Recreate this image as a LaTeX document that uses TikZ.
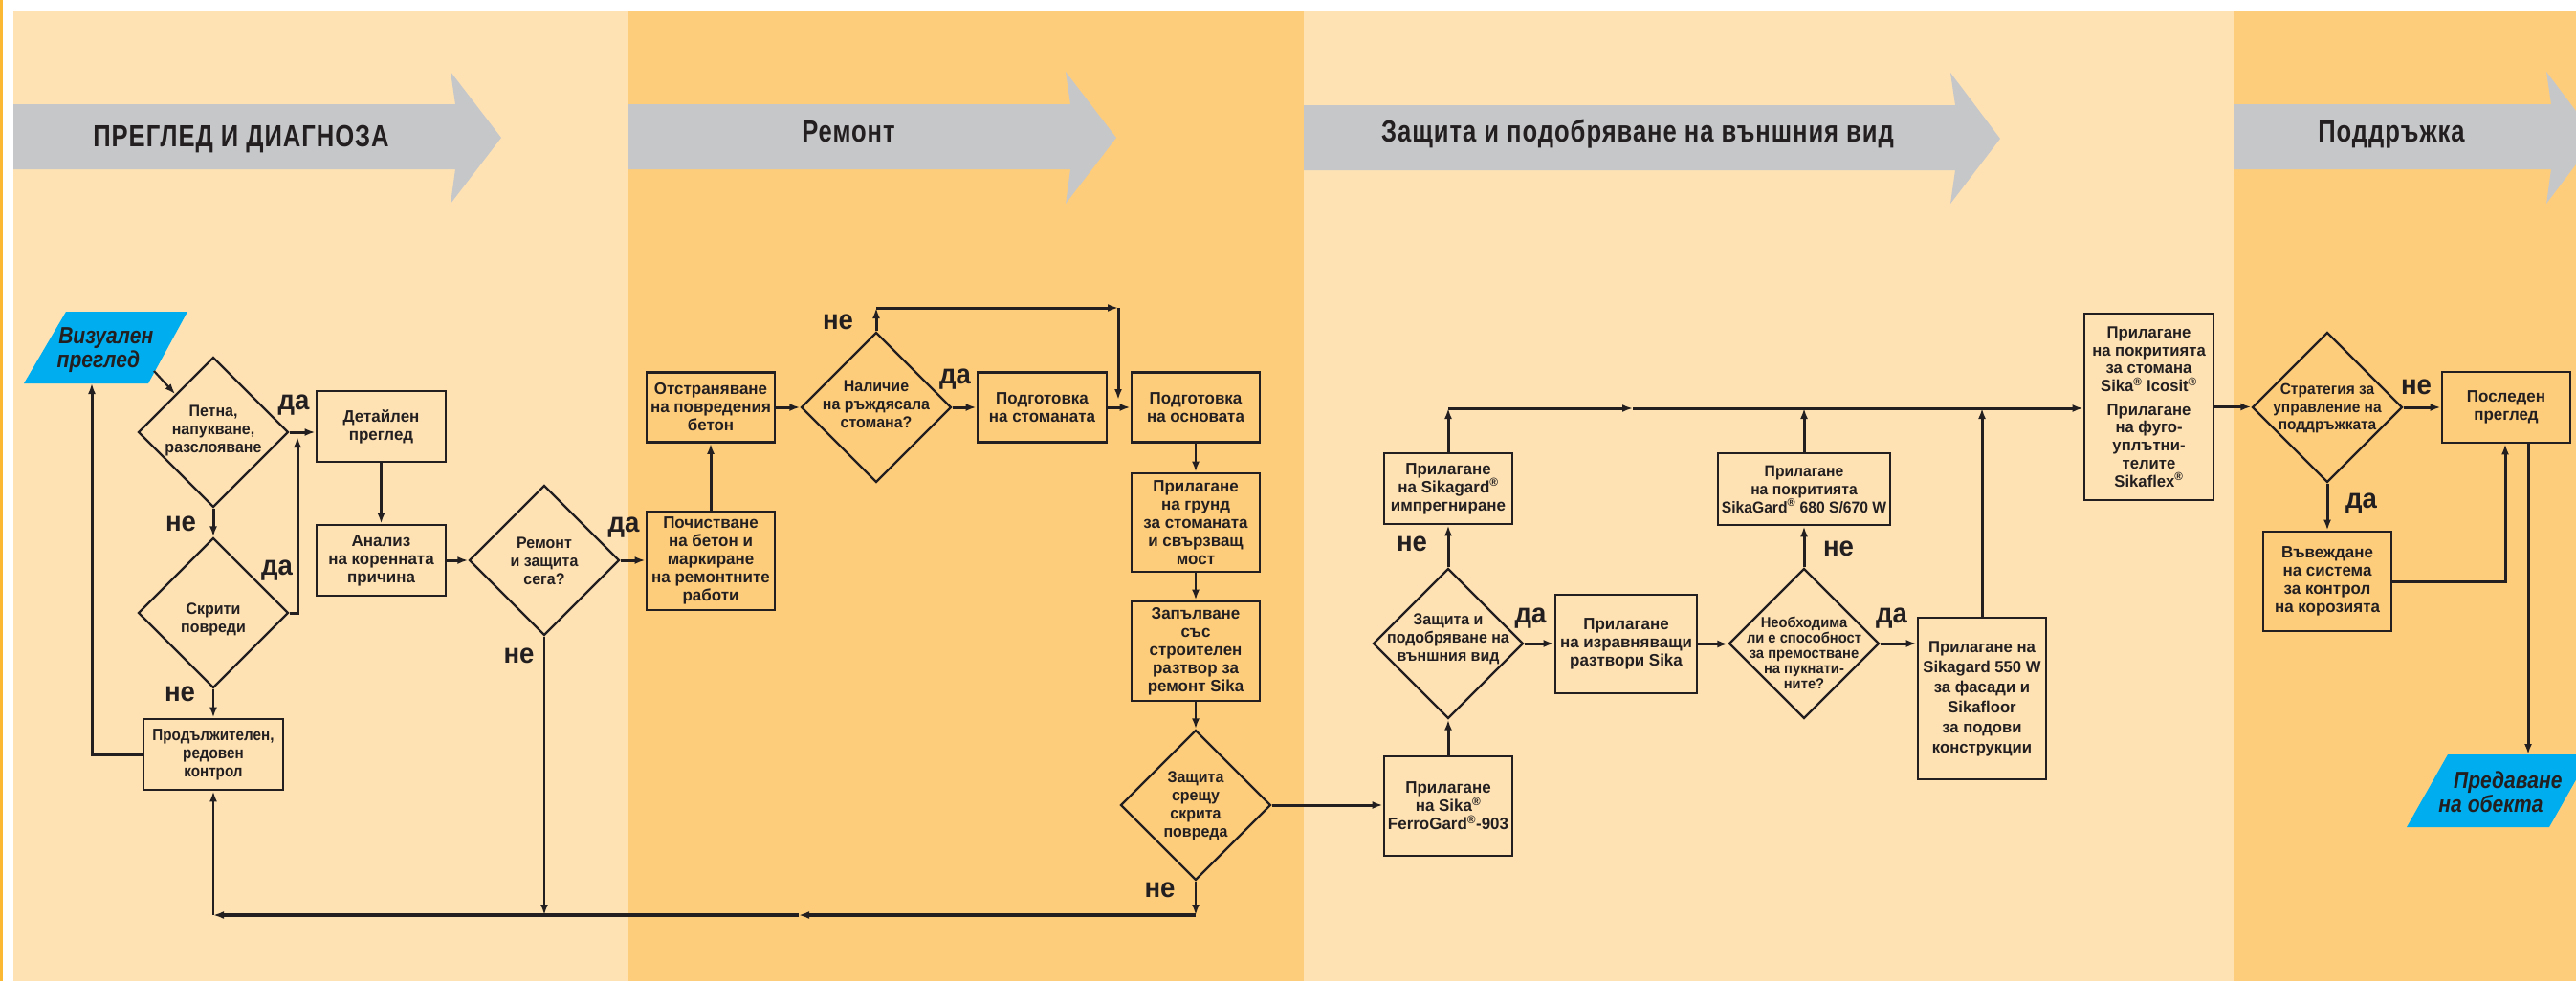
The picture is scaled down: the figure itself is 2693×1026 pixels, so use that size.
\documentclass[tikz,border=0pt]{standalone}
\usepackage{fontspec}
\setmainfont{Liberation Sans}
\newfontfamily\bgf{Liberation Sans}[FakeStretch=0.95]
\newfontfamily\bxf{Liberation Sans}[FakeStretch=0.98]
\newfontfamily\cnf{Liberation Sans}[FakeStretch=0.88]
\newfontfamily\itf{Liberation Sans}[FakeStretch=0.86]
\newfontfamily\hdf{Liberation Sans}[FakeStretch=0.8,LetterSpace=3]
\usetikzlibrary{arrows.meta,shapes.geometric}
\definecolor{lightb}{HTML}{FEE2B4}
\definecolor{orb}{HTML}{FECD7C}
\definecolor{edgeo}{HTML}{FBB833}
\definecolor{arrg}{HTML}{C6C7C9}
\definecolor{skyb}{HTML}{00AEEF}
\definecolor{ink}{HTML}{231F20}
\tikzset{
  box/.style={draw=ink, line width=2.8pt, rectangle, inner sep=0pt, align=center, text=ink,
    font=\bxf\bfseries\fontsize{17.3}{19}\selectfont},
  dia/.style={draw=ink, line width=2.3pt, diamond, inner sep=0pt, minimum width=157pt, minimum height=157pt},
  dtxt/.style={align=center, inner sep=0pt, text=ink, font=\bgf\bfseries\fontsize{16.8}{19}\selectfont},
  lbl/.style={anchor=base, inner sep=0pt, text=ink, font=\bgf\bfseries\fontsize{29}{30}\selectfont},
  hdr/.style={anchor=base, inner sep=0pt, text=ink, font=\hdf\bfseries\fontsize{32}{36}\selectfont},
  ptxt/.style={inner sep=0pt, text=ink, font=\itf\bfseries\itshape\fontsize{24.5}{25}\selectfont},
  con/.style={draw=ink, line width=3pt, -{Latex[length=11pt,width=8pt]}},
  conthin/.style={con, line width=2.2pt},
  conthick/.style={con, line width=3.6pt},
  band/.style={fill=arrg, draw=none}
}
\begin{document}
\begin{tikzpicture}[x=1pt,y=-1pt]
\useasboundingbox (0,0) rectangle (2693,1026);
\clip (0,0) rectangle (2693,1026);
% background
\fill[white] (0,0) rectangle (2693,1026);
\fill[edgeo] (0,0) rectangle (3,1026);
\fill[lightb] (14,11) rectangle (657,1026);
\fill[orb] (657,11) rectangle (1363,1026);
\fill[lightb] (1363,11) rectangle (2335,1026);
\fill[orb] (2335,11) rectangle (2693,1026);
% header arrows
\fill[band] (14,109) -- (476,109) -- (471,75) -- (524,144) -- (471,213) -- (476,177) -- (14,177) -- cycle;
\fill[band] (657,109) -- (1119,109) -- (1114,75) -- (1167,144) -- (1114,213) -- (1119,177) -- (657,177) -- cycle;
\fill[band] (1363,110) -- (2044,110) -- (2039,76) -- (2091,145) -- (2039,213) -- (2044,178) -- (1363,178) -- cycle;
\fill[band] (2335,109) -- (2667,109) -- (2662,75) -- (2714,144) -- (2662,213) -- (2667,177) -- (2335,177) -- cycle;
\node[hdr] (h1) at (252,153) {ПРЕГЛЕД И ДИАГНОЗА};
\node[hdr] (h2) at (887,148) {Ремонт};
\node[hdr] (h3) at (1712,148) {Защита и подобряване на външния вид};
\node[hdr] (h4) at (2500,148) {Поддръжка};
% terminal parallelograms
\fill[skyb] (69,326) -- (196,326) -- (155,401) -- (25,401) -- cycle;
\node[ptxt, align=right] (vist) at (110,366) {Визуален\\преглед\hspace*{14pt}};
\coordinate (visR) at (161,388);
\coordinate (visB) at (96,401);
\fill[skyb] (2559,789) -- (2708,789) -- (2665,865) -- (2516,865) -- cycle;
\node[ptxt, align=right] (predt) at (2614,828) {Предаване\\на обекта\hspace*{20pt}};
\coordinate (predT) at (2643,789);
% diamonds
\node[dia] (d1) at (223,452) {};
\node[dtxt] (d1t) at (223,450) {Петна,\\напукване,\\разслояване};
\node[dia] (d2) at (223,641) {};
\node[dtxt] (d2t) at (223,648) {Скрити\\повреди};
\node[dia] (d3) at (569,586) {};
\node[dtxt] (d3t) at (569,587) {Ремонт\\и защита\\сега?};
\node[dia] (d4) at (916,426) {};
\node[dtxt] (d4t) at (916,423) {Наличие\\на ръждясала\\стомана?};
\node[dia] (dz) at (1250,842) {};
\node[dtxt] (dzt) at (1250,843) {Защита\\срещу\\скрита\\повреда};
\node[dia] (d5) at (1514,673) {};
\node[dtxt] (d5t) at (1514,668) {Защита и\\подобряване на\\външния вид};
\node[dia] (d6) at (1886,673) {};
\node[dtxt, font=\bgf\bfseries\fontsize{15.5}{16}\selectfont] (d6t) at (1886,683) {Необходима\\ли е способност\\за премостване\\на пукнати-\\ните?};
\node[dia] (d7) at (2433,426) {};
\node[dtxt, font=\bgf\bfseries\fontsize{16.3}{18.5}\selectfont] (d7t) at (2433,427) {Стратегия за\\управление на\\поддръжката};
% boxes
\node[box, minimum width=135pt, minimum height=74pt] (det) at (398.5,446) {Детайлен\\преглед};
\node[box, minimum width=135pt, minimum height=74pt] (an) at (398.5,586) {Анализ\\на коренната\\причина};
\node[box, minimum width=146pt, minimum height=74pt, font=\cnf\bfseries\fontsize{17.3}{19}\selectfont] (prod) at (223,789) {Продължителен,\\редовен\\контрол};
\node[box, minimum width=134pt, minimum height=73pt] (otst) at (743,426) {Отстраняване\\на повредения\\бетон};
\node[box, minimum width=134pt, minimum height=103pt] (poch) at (743,586.5) {Почистване\\на бетон и\\маркиране\\на ремонтните\\работи};
\node[box, minimum width=135pt, minimum height=73pt] (pst) at (1089.5,426) {Подготовка\\на стоманата};
\node[box, minimum width=134pt, minimum height=73pt] (pos) at (1250,426) {Подготовка\\на основата};
\node[box, minimum width=134pt, minimum height=103pt] (grund) at (1250,546.5) {Прилагане\\на грунд\\за стоманата\\и свързващ\\мост};
\node[box, minimum width=134pt, minimum height=104pt] (zap) at (1250,681) {Запълване\\със\\строителен\\разтвор за\\ремонт Sika};
\node[box, minimum width=134pt, minimum height=104pt] (ferro) at (1514,843) {Прилагане\\на Sika\textsuperscript{®}\\FerroGard\textsuperscript{®}-903};
\node[box, minimum width=134pt, minimum height=74pt] (impr) at (1514,511) {Прилагане\\на Sikagard\textsuperscript{®}\\импрегниране};
\node[box, minimum width=148pt, minimum height=103pt] (izr) at (1700,673.5) {Прилагане\\на изравняващи\\разтвори Sika};
\node[box, minimum width=180pt, minimum height=75pt, font=\bgf\bfseries\fontsize{16.5}{19}\selectfont] (sg) at (1886,511.5) {Прилагане\\на покритията\\SikaGard\textsuperscript{®} 680 S/670 W};
\node[box, minimum width=134pt, minimum height=169pt, font=\bxf\bfseries\fontsize{17}{21}\selectfont] (s550) at (2072,730.5) {Прилагане на\\Sikagard 550 W\\за фасади и\\Sikafloor\\за подови\\конструкции};
\node[box, minimum width=135pt, minimum height=195pt, font=\bxf\bfseries\fontsize{17}{18.7}\selectfont] (icos) at (2246.5,425.5) {Прилагане\\на покритията\\за стомана\\Sika\textsuperscript{®} Icosit\textsuperscript{®}\\[6pt]Прилагане\\на фуго-\\уплътни-\\телите\\Sikaflex\textsuperscript{®}};
\node[box, minimum width=134pt, minimum height=74pt] (posl) at (2620,426) {Последен\\преглед};
\node[box, minimum width=134pt, minimum height=104pt] (vav) at (2433,608) {Въвеждане\\на система\\за контрол\\на корозията};
% helper coordinates
\coordinate (j1) at (311,457);
\coordinate (c1) at (916,322);
\coordinate (c2) at (1169,322);
\coordinate (c3) at (1169,418);
\coordinate (b1) at (1250,957);
\coordinate (bm) at (835,957);
\coordinate (b0) at (223,957);
\coordinate (b3) at (569,957);
\coordinate (t1) at (1514,427);
\coordinate (m1) at (1707,427);
\coordinate (t2) at (1886,427);
\coordinate (t3) at (2072,427);
% connectors: inspection column
\draw[conthin] (visR) -- (d1.north west);
\draw[con] (prod.west) -| (visB);
\draw[con] (d1.east) -- (d1.east -| det.west);
\draw[con] (d1.south) -- (d2.north);
\draw[con] (d2.east) -| (j1);
\draw[conthin] (d2.south) -- (prod.north);
\draw[con] (det.south) -- (an.north);
\draw[con] (an.east) -- (an.east -| d3.west);
\draw[con] (d3.east) -- (d3.east -| poch.west);
\draw[conthin] (d3.south) -- (b3);
% repair column
\draw[con] (poch.north) -- (otst.south);
\draw[con] (otst.east) -- (d4.west);
\draw[con] (d4.east) -- (pst.west);
\draw[con] (d4.north) -- (c1);
\draw[con] (c1) -- (c2);
\draw[con] (c2) -- (c3);
\draw[con] (pst.east) -- (pos.west);
\draw[conthin] (pos.south) -- (grund.north);
\draw[conthin] (grund.south) -- (zap.north);
\draw[conthin] (zap.south) -- (dz.north);
\draw[conthin] (dz.south) -- (b1);
\draw[conthick] (b1) -- (bm);
\draw[conthick] (bm) -- (b0);
\draw[conthin] (b0) -- (prod.south);
\draw[con] (dz.east) -- (dz.east -| ferro.west);
% protection column
\draw[con] (ferro.north) -- (d5.south);
\draw[con] (d5.north) -- (impr.south);
\draw[con] (impr.north) -- (t1);
\draw[con] (t1) -- (m1);
\draw[con] (m1) -- (t1 -| icos.west);
\draw[con] (d5.east) -- (d5.east -| izr.west);
\draw[con] (izr.east) -- (izr.east -| d6.west);
\draw[con] (d6.north) -- (sg.south);
\draw[con] (sg.north) -- (t2);
\draw[con] (d6.east) -- (d6.east -| s550.west);
\draw[con] (s550.north) -- (t3);
% maintenance column
\draw[con] (icos.east) -- (icos.east -| d7.west);
\draw[con] (d7.east) -- (d7.east -| posl.west);
\draw[con] (d7.south) -- (vav.north);
\draw[con] (vav.east) -| ([xshift=-1pt]posl.south);
\draw[con] ([xshift=23pt]posl.south) -- (predT);
% yes / no labels
\node[lbl] (l1) at (307,428) {да};
\node[lbl] (l2) at (189,555) {не};
\node[lbl] (l3) at (289.5,601) {да};
\node[lbl] (l4) at (188,733) {не};
\node[lbl] (l5) at (652,556) {да};
\node[lbl] (l6) at (542.5,693) {не};
\node[lbl] (l7) at (876,344) {не};
\node[lbl] (l8) at (998.5,401) {да};
\node[lbl] (l9) at (1212.5,938) {не};
\node[lbl] (l10) at (1476,576) {не};
\node[lbl] (l11) at (1600,651) {да};
\node[lbl] (l12) at (1922,581) {не};
\node[lbl] (l13) at (1977.5,651) {да};
\node[lbl] (l14) at (2526,412) {не};
\node[lbl] (l15) at (2468.5,531) {да};
\end{tikzpicture}
\end{document}
